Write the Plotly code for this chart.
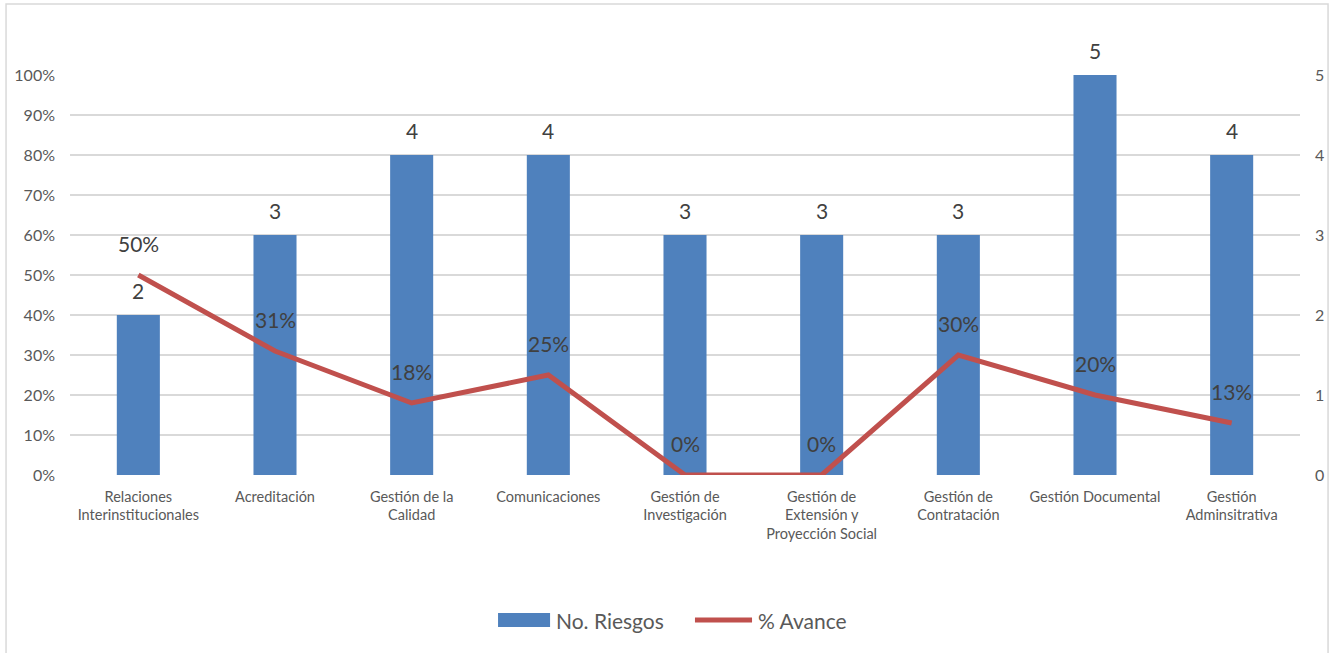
import plotly.graph_objects as go

# Processes and their values
categorias = [
    "Relaciones<br>Interinstitucionales",
    "Acreditación",
    "Gestión de la<br>Calidad",
    "Comunicaciones",
    "Gestión de<br>Investigación",
    "Gestión de<br>Extensión y<br>Proyección Social",
    "Gestión de<br>Contratación",
    "Gestión Documental",
    "Gestión<br>Adminsitrativa",
]
no_riesgos = [2, 3, 4, 4, 3, 3, 3, 5, 4]
avance = [0.50, 0.31, 0.18, 0.25, 0.0, 0.0, 0.30, 0.20, 0.13]

pct_ticks = [i / 10 for i in range(11)]
pct_labels = [f"{i * 10}%" for i in range(11)]
num_grid = [i / 2 for i in range(11)]
num_labels = [str(int(v)) if v == int(v) else "" for v in num_grid]

FONT = "Lato, 'Open Sans', sans-serif"
GRAY = "#595959"
DARK = "#404040"
BLUE = "#4F81BD"
RED = "#C0504D"

x_idx = list(range(len(categorias)))

fig = go.Figure()

# Bars on the primary (right-hand) axis, line on the overlaying percent axis
fig.add_trace(go.Bar(
    x=x_idx, y=no_riesgos, name="No. Riesgos",
    marker=dict(color=BLUE, line=dict(width=0)),
    width=0.315, yaxis="y",
))

fig.add_trace(go.Scatter(
    x=x_idx, y=avance, name="% Avance", mode="lines",
    line=dict(color=RED, width=5, shape="linear"),
    cliponaxis=False, yaxis="y2",
))

annotations = []
for i, v in enumerate(no_riesgos):
    annotations.append(dict(
        x=i, y=v, xref="x", yref="y", text=str(v), showarrow=False,
        yanchor="middle", yshift=25,
        font=dict(family=FONT, size=21, color=DARK),
    ))
for i, v in enumerate(avance):
    annotations.append(dict(
        x=i, y=v, xref="x", yref="y2", text=f"{round(v * 100)}%", showarrow=False,
        yanchor="middle", yshift=32,
        font=dict(family=FONT, size=21, color=DARK),
    ))

# Legend drawn in paper space
legend_y = -0.3625
annotations += [
    dict(x=0.3935, y=legend_y, xref="paper", yref="paper", text="No. Riesgos",
         showarrow=False, xanchor="left", yanchor="middle",
         font=dict(family=FONT, size=21, color=GRAY)),
    dict(x=0.5575, y=legend_y, xref="paper", yref="paper", text="% Avance",
         showarrow=False, xanchor="left", yanchor="middle",
         font=dict(family=FONT, size=21, color=GRAY)),
]

shapes = [
    dict(type="rect", xref="paper", yref="paper",
         x0=-0.052, x1=1.0228, y0=-0.6, y1=1.1775,
         line=dict(color="#D9D9D9", width=1.5), fillcolor="rgba(0,0,0,0)",
         layer="below"),
    dict(type="rect", xref="paper", yref="paper",
         x0=0.3480, x1=0.3903, y0=legend_y - 0.0175, y1=legend_y + 0.0175,
         line=dict(width=0), fillcolor=BLUE),
    dict(type="line", xref="paper", yref="paper",
         x0=0.5081, x1=0.5545, y0=legend_y, y1=legend_y,
         line=dict(color=RED, width=5)),
]

fig.update_layout(
    width=1330, height=653,
    margin=dict(l=70, r=30, t=75, b=178),
    paper_bgcolor="white", plot_bgcolor="white",
    font=dict(family=FONT, color=GRAY),
    showlegend=False,
    xaxis=dict(
        tickmode="array", tickvals=x_idx, ticktext=categorias,
        range=[-0.5, len(categorias) - 0.5],
        showgrid=False, zeroline=False, showline=False, ticks="",
        tickfont=dict(family=FONT, size=14.5, color=GRAY),
        ticklabelstandoff=11, automargin=False,
    ),
    yaxis=dict(
        range=[0, 5], tickmode="array", tickvals=num_grid, ticktext=num_labels,
        side="right",
        showgrid=True, gridcolor="#D9D9D9", gridwidth=1.5,
        zeroline=False, showline=False, ticks="",
        tickfont=dict(family=FONT, size=16, color=GRAY),
        ticklabelstandoff=14, automargin=False,
    ),
    yaxis2=dict(
        range=[0, 1], tickmode="array", tickvals=pct_ticks, ticktext=pct_labels,
        overlaying="y", side="left",
        showgrid=False, zeroline=False, showline=False, ticks="",
        tickfont=dict(family=FONT, size=16, color=GRAY),
        ticklabelstandoff=14, automargin=False,
    ),
    annotations=annotations,
    shapes=shapes,
)

fig.write_html("out.html")
